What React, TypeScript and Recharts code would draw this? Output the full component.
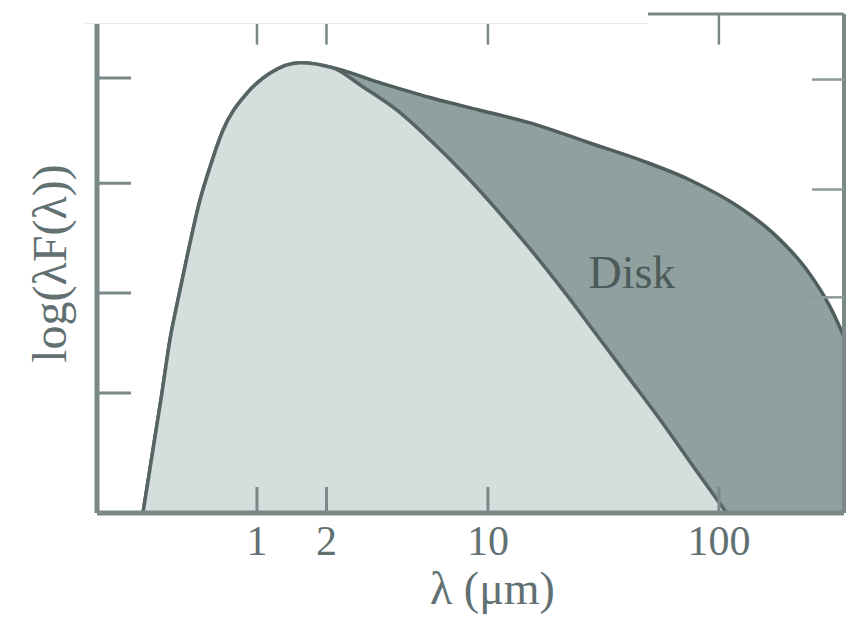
import React from 'react';
import { ComposedChart, Area, XAxis, YAxis, ReferenceDot, ReferenceLine } from 'recharts';

// wavelength (µm) tick positions and labels
const xTicks = [1, 2, 10, 100];
const xTickLabels = ['1', '2', '10', '100'];
// unlabeled y ticks (log flux units, arbitrary)
const yTicksLeft = [1.135, 2.08, 3.12, 4.115];
const yTicksRight = [2.04, 3.06, 4.1];

// stellar photosphere curve
const starLambda = [0.321, 0.388, 0.42, 0.455, 0.498, 0.567, 0.626, 0.713, 0.905, 1.138, 1.535, 2.13, 2.88, 4.04, 5.61, 7.79, 10.9, 15.2, 21.1, 29.0, 40.4, 56.2, 78.0, 108];
const starFlux = [0, 1.135, 1.637, 2.015, 2.42, 2.96, 3.27, 3.62, 3.97, 4.16, 4.26, 4.21, 4.03, 3.81, 3.53, 3.22, 2.87, 2.5, 2.11, 1.71, 1.29, 0.87, 0.43, 0];

// star + disk total curve
const diskLambda = [0.321, 0.388, 0.42, 0.455, 0.498, 0.567, 0.626, 0.713, 0.905, 1.138, 1.535, 2.07, 3.41, 5.61, 9.23, 15.2, 27.6, 45.5, 74.9, 123, 171, 240, 303, 348];
const diskFlux = [0, 1.135, 1.637, 2.015, 2.42, 2.96, 3.27, 3.62, 3.97, 4.16, 4.26, 4.22, 4.07, 3.93, 3.81, 3.69, 3.5, 3.34, 3.15, 2.89, 2.65, 2.3, 1.95, 1.67];

const xDomain = [0.203, 348];
const yDomain = [0, 4.72];
const topTickLength = 0.29; // in y units
const diskLabelPos = { lambda: 42, flux: 2.28 };
const diskLabelText = 'Disk';
const xAxisTitle = 'λ (μm)';
const yAxisTitle = 'log(λF(λ))';

const starData = starLambda.map((l, i) => ({ lambda: l, flux: starFlux[i] }));
const diskData = diskLambda.map((l, i) => ({ lambda: l, flux: diskFlux[i] }));

const SERIF = '"Liberation Serif", "DejaVu Serif", serif';
const AXIS = '#7a8888';
const TEXT = '#617070';
const NoLabel = () => <g />;

export default function App() {
  return (
    <div style={{ position: 'absolute', left: 0, top: 0, width: 858, height: 617, background: '#fff' }}>
      <ComposedChart width={858} height={617} margin={{ top: 0, right: 0, bottom: 0, left: 0 }}>
        <Area
          data={diskData}
          xAxisId="bottom"
          yAxisId="left"
          type="monotone"
          dataKey="flux"
          fill="#8fa09f"
          fillOpacity={1}
          stroke="#4f5d5d"
          strokeWidth={3.5}
          dot={false}
          activeDot={false}
          isAnimationActive={false}
        />
        <Area
          data={starData}
          xAxisId="bottom"
          yAxisId="left"
          type="monotone"
          dataKey="flux"
          fill="#d5dedd"
          fillOpacity={1}
          stroke="#566464"
          strokeWidth={3.5}
          dot={false}
          activeDot={false}
          isAnimationActive={false}
        />
        {xTicks.map((t) => (
          <ReferenceLine
            key={`top-${t}`}
            xAxisId="bottom"
            yAxisId="left"
            segment={[
              { x: t, y: yDomain[1] },
              { x: t, y: yDomain[1] - topTickLength },
            ]}
            stroke={AXIS}
            strokeWidth={2.5}
            ifOverflow="visible"
          />
        ))}
        <XAxis
          xAxisId="bottom"
          dataKey="lambda"
          type="number"
          scale="log"
          domain={xDomain}
          allowDataOverflow
          ticks={xTicks}
          tickFormatter={(v: number) => xTickLabels[xTicks.indexOf(v)] ?? ''}
          interval={0}
          height={104}
          tickSize={-26}
          tickMargin={38}
          axisLine={{ stroke: AXIS, strokeWidth: 5 }}
          tickLine={{ stroke: AXIS, strokeWidth: 3 }}
          tick={{ fill: TEXT, fontSize: 42, fontFamily: SERIF }}
          label={{ value: xAxisTitle, position: 'insideBottom', offset: 13, dx: 22, fill: TEXT, fontSize: 46, fontFamily: SERIF }}
        />
        <XAxis
          xAxisId="top"
          orientation="top"
          type="number"
          scale="log"
          domain={xDomain}
          allowDataOverflow
          ticks={xTicks}
          interval={0}
          height={14}
          tickSize={-31}
          tick={NoLabel}
          axisLine={{ stroke: AXIS, strokeWidth: 3 }}
          tickLine={{ stroke: AXIS, strokeWidth: 2.5 }}
        />
        <YAxis
          yAxisId="left"
          type="number"
          domain={yDomain}
          allowDataOverflow
          ticks={yTicksLeft}
          interval={0}
          width={97}
          tickSize={-34}
          tick={NoLabel}
          axisLine={{ stroke: AXIS, strokeWidth: 5 }}
          tickLine={{ stroke: AXIS, strokeWidth: 3 }}
          label={{ value: yAxisTitle, angle: -90, position: 'center', fill: TEXT, fontSize: 48, fontFamily: SERIF }}
        />
        <YAxis
          yAxisId="right"
          orientation="right"
          type="number"
          domain={yDomain}
          allowDataOverflow
          ticks={yTicksRight}
          interval={0}
          width={14}
          tickSize={-32}
          tick={NoLabel}
          axisLine={{ stroke: AXIS, strokeWidth: 4 }}
          tickLine={{ stroke: '#8c9a9a', strokeWidth: 2.5 }}
        />
        <ReferenceDot
          xAxisId="bottom"
          yAxisId="left"
          x={diskLabelPos.lambda}
          y={diskLabelPos.flux}
          r={0}
          fill="none"
          stroke="none"
          label={{ value: diskLabelText, position: 'center', fill: '#4d5a5a', fontSize: 46, fontFamily: SERIF }}
        />
      </ComposedChart>
      <div
        style={{
          position: 'absolute',
          left: 85,
          top: 0,
          width: 563,
          height: 24,
          background: '#fff',
          borderBottom: '1px solid #e6ecec',
          boxSizing: 'border-box',
        }}
      />
    </div>
  );
}
